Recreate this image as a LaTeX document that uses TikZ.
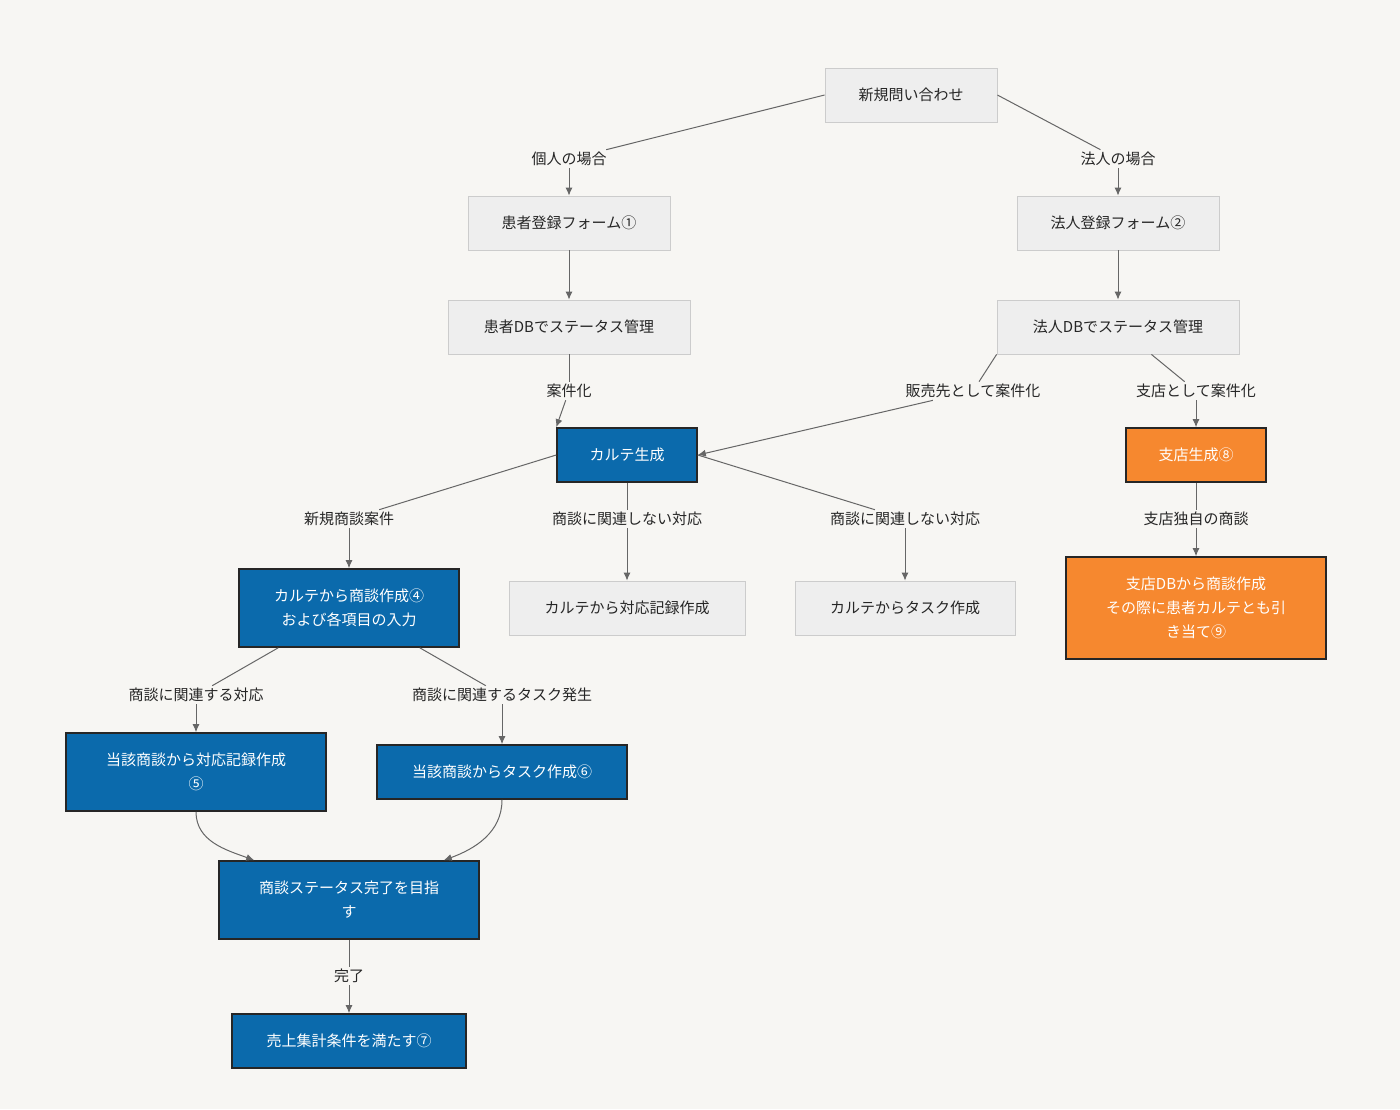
\documentclass[tikz,border=0pt]{standalone}
\usepackage{fontspec}
\setmainfont{Noto Sans CJK JP}
\usetikzlibrary{arrows.meta}
\definecolor{bgc}{HTML}{F7F6F3}
\definecolor{grayc}{HTML}{EEEEEE}
\definecolor{grayb}{HTML}{CCCCCC}
\definecolor{bluec}{HTML}{0B6AAC}
\definecolor{orangec}{HTML}{F6882F}
\definecolor{linec}{HTML}{666666}

\tikzset{
	box/.style={draw=grayb, fill=grayc, text=black!85, align=center, font=\fontsize{7.5}{12}\selectfont, inner sep=0pt},
	bluebox/.style={box, draw=black!85, line width=0.8pt, fill=bluec, text=white},
	orangebox/.style={box, draw=black!85, line width=0.8pt, fill=orangec, text=white},
	lbl/.style={fill=bgc, text=black!85, font=\fontsize{7.5}{9}\selectfont, inner sep=1pt},
	edge/.style={draw=linec, line width=0.5pt},
	arr/.style={edge, -{Latex[length=4pt,width=3.5pt]}}
}

\begin{document}
\begin{tikzpicture}[x=0.5pt, y=-0.5pt]

\fill[bgc] (0,0) rectangle (1400,1109);
\useasboundingbox (0,0) rectangle (1400,1109);

% nodes
\node[box, minimum width=86pt, minimum height=27pt] (start) at (911,95) {新規問い合わせ};
\node[box, minimum width=101pt, minimum height=27pt] (pform) at (569,223) {患者登録フォーム①};
\node[box, minimum width=101pt, minimum height=27pt] (cform) at (1118,223) {法人登録フォーム②};
\node[box, minimum width=121pt, minimum height=27pt] (pdb) at (569,327) {患者DBでステータス管理};
\node[box, minimum width=121pt, minimum height=27pt] (cdb) at (1118,327) {法人DBでステータス管理};
\node[bluebox, minimum width=70pt, minimum height=27pt] (karte) at (627,455) {カルテ生成};
\node[orangebox, minimum width=70pt, minimum height=27pt] (branch) at (1196,455) {支店生成⑧};
\node[bluebox, minimum width=110pt, minimum height=39pt] (deal) at (349,608) {カルテから商談作成④\\および各項目の入力};
\node[box, minimum width=118pt, minimum height=27pt] (krec) at (627,608) {カルテから対応記録作成};
\node[box, minimum width=110pt, minimum height=27pt] (ktask) at (905,608) {カルテからタスク作成};
\node[orangebox, minimum width=130pt, minimum height=51pt] (bdeal) at (1196,608) {支店DBから商談作成\\その際に患者カルテとも引\\き当て⑨};
\node[bluebox, minimum width=130pt, minimum height=39pt] (drec) at (196,772) {当該商談から対応記録作成\\⑤};
\node[bluebox, minimum width=125pt, minimum height=27pt] (dtask) at (502,772) {当該商談からタスク作成⑥};
\node[bluebox, minimum width=130pt, minimum height=39pt] (goal) at (349,900) {商談ステータス完了を目指\\す};
\node[bluebox, minimum width=117pt, minimum height=27pt] (sales) at (349,1041) {売上集計条件を満たす⑦};

% edge labels
\node[lbl] (l1) at (569,159) {個人の場合};
\node[lbl] (l2) at (1118,159) {法人の場合};
\node[lbl] (l3) at (569,391) {案件化};
\node[lbl] (l4) at (973,391) {販売先として案件化};
\node[lbl] (l5) at (1196,391) {支店として案件化};
\node[lbl] (l6) at (349,519) {新規商談案件};
\node[lbl] (l7) at (627,519) {商談に関連しない対応};
\node[lbl] (l8) at (905,519) {商談に関連しない対応};
\node[lbl] (l9) at (1196,519) {支店独自の商談};
\node[lbl] (l10) at (196,695) {商談に関連する対応};
\node[lbl] (l11) at (502,695) {商談に関連するタスク発生};
\node[lbl] (l12) at (349,976) {完了};

% connectors
\draw[edge] (start.west) -- (l1); \draw[arr] (l1) -- (pform);
\draw[edge] (start.east) -- (l2); \draw[arr] (l2) -- (cform);
\draw[arr] (pform) -- (pdb);
\draw[arr] (cform) -- (cdb);
\draw[edge] (pdb) -- (l3); \draw[arr] (l3) -- (karte.north west);
\draw[edge] (cdb.south west) -- (l4); \draw[arr] (l4) -- (karte.east);
\draw[edge] (cdb) -- (l5); \draw[arr] (l5) -- (branch);
\draw[edge] (karte.west) -- (l6); \draw[arr] (l6) -- (deal);
\draw[edge] (karte) -- (l7); \draw[arr] (l7) -- (krec);
\draw[edge] (karte.east) -- (l8); \draw[arr] (l8) -- (ktask);
\draw[edge] (branch) -- (l9); \draw[arr] (l9) -- (bdeal);
\draw[edge] (deal.south west) ++(40,0) -- (l10); \draw[arr] (l10) -- (drec);
\draw[edge] (deal.south east) ++(-40,0) -- (l11); \draw[arr] (l11) -- (dtask);
\draw[arr] (drec.south) to[out=-90, in=160] ([xshift=18pt]goal.north west);
\draw[arr] (dtask.south) to[out=-90, in=20] ([xshift=-18pt]goal.north east);
\draw[edge] (goal) -- (l12); \draw[arr] (l12) -- (sales);

\end{tikzpicture}
\end{document}
